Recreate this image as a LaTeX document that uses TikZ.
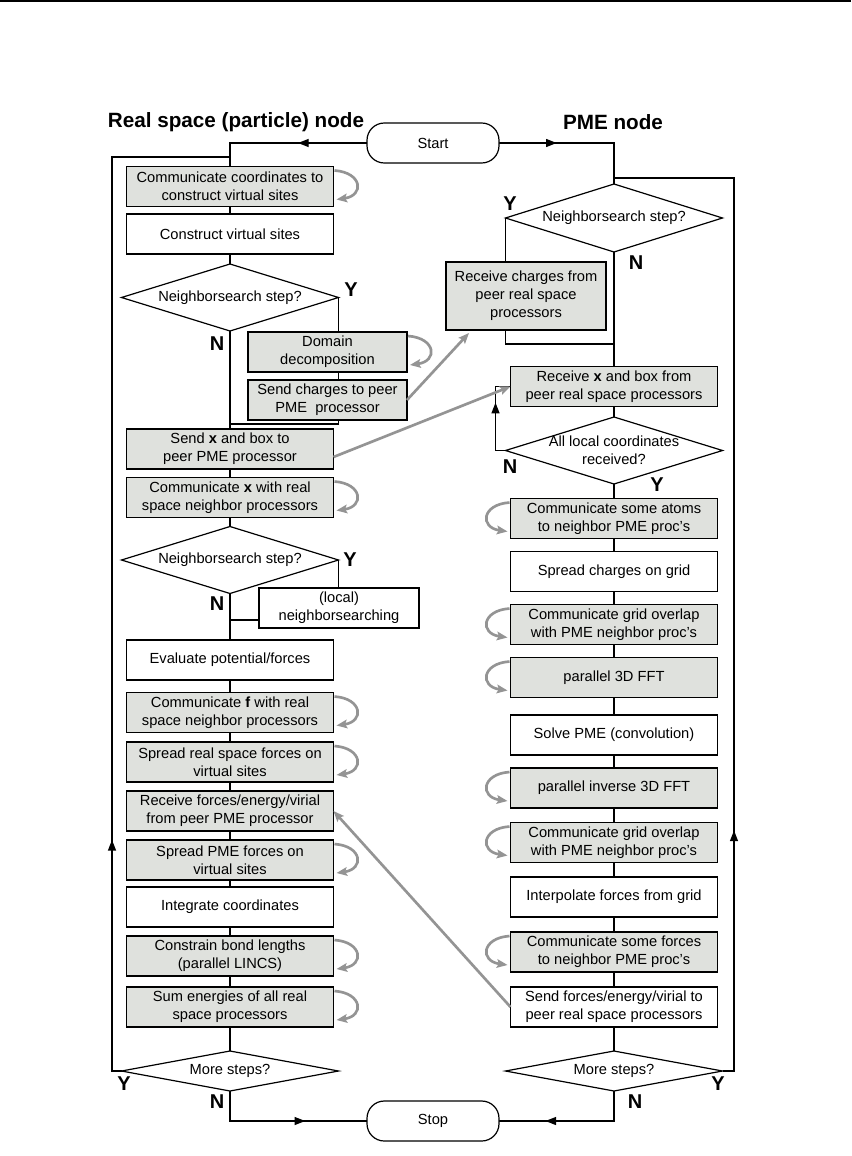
\documentclass[tikz,border=0pt]{standalone}
\usepackage{fontspec}
\setmainfont{Liberation Sans}
\usetikzlibrary{shapes.geometric,arrows.meta,decorations.markings}
\definecolor{boxgray}{RGB}{223,225,221}
\definecolor{arrgray}{RGB}{148,148,148}
\pgfdeclarelayer{bg}
\pgfsetlayers{bg,main}
\newcommand\selfloopR[1]{\draw[msg] ([shift={(1,4)}]#1.north east) .. controls +(28,2) and +(28,-4) .. ([shift={(3,-7)}]#1.south east);}
\newcommand\selfloopL[1]{\draw[msg] ([shift={(-1,4)}]#1.north west) .. controls +(-28,2) and +(-28,-4) .. ([shift={(-3,-7)}]#1.south west);}
\begin{document}
\begin{tikzpicture}[x=0.75pt,y=-0.75pt,
  every node/.style={font=\fontsize{11}{13.5}\selectfont, inner sep=0pt, outer sep=0pt, align=center},
  proc/.style={draw, line width=1.3pt, fill=white, minimum width=155.25pt, minimum height=30pt},
  comm/.style={proc, fill=boxgray},
  thinbox/.style={line width=0.8pt},
  dec/.style={draw, diamond, aspect=3.24, line width=0.9pt, fill=white, minimum width=162.75pt, minimum height=50.25pt},
  decflat/.style={dec, aspect=5.4, minimum height=30pt},
  term/.style={draw, rounded corners=13pt, line width=0.9pt, fill=white, minimum width=99pt, minimum height=30pt},
  flow/.style={line width=0.9pt},
  midarrow/.style={postaction={decorate}, decoration={markings, mark=at position #1 with {\arrow{Triangle[length=8pt,width=6pt]}}}},
  msg/.style={draw=arrgray, line width=2pt, -{Stealth[length=8pt,width=6.5pt,inset=1.5pt]}},
  lab/.style={font=\fontsize{15}{16}\selectfont\bfseries},
  heading/.style={font=\fontsize{15.5}{17}\selectfont\bfseries},
]
\useasboundingbox (0,0) rectangle (851,1156);
\draw[line width=1.5pt] (0,1) -- (851,1);

% headings
\node[heading] (h1) at (236,122) {Real space (particle) node};
\node[heading] (h2) at (613,122) {PME node};

% terminals
\node[term] (start) at (433,143) {Start};
\node[term] (stop) at (433,1121) {Stop};

% left column
\node[comm] (c1) at (230,186.5) {Communicate coordinates to\\construct virtual sites};
\node[proc] (c2) at (230,234) {Construct virtual sites};
\node[dec] (d1) at (230,297.5) {Neighborsearch step?};
\node[comm, thinbox, minimum width=119.25pt] (dd) at (327.5,352) {Domain\\decomposition};
\node[comm, minimum width=119.25pt] (sc) at (327.5,400) {Send charges to peer\\PME\ \ processor};
\node[comm] (sx) at (230,449) {Send \textbf{x} and box to\\peer PME processor};
\node[comm] (cx) at (230,497.5) {Communicate \textbf{x} with real\\space neighbor processors};
\node[dec] (d2) at (230,560) {Neighborsearch step?};
\node[proc, thinbox, minimum width=120pt] (ns) at (339,608) {(local)\\neighborsearching};
\node[proc] (ev) at (230,660) {Evaluate potential/forces};
\node[comm] (cf) at (230,712.5) {Communicate \textbf{f} with real\\space neighbor processors};
\node[comm] (sr) at (230,762) {Spread real space forces on\\virtual sites};
\node[comm] (rf) at (230,811) {Receive forces/energy/virial\\from peer PME processor};
\node[comm] (sp) at (230,860) {Spread PME forces on\\virtual sites};
\node[proc] (ic) at (230,907) {Integrate coordinates};
\node[comm, thinbox] (cb) at (230,956) {Constrain bond lengths\\(parallel LINCS)};
\node[comm, thinbox] (se) at (230,1007) {Sum energies of all real\\space processors};
\node[decflat] (d3) at (230,1071) {More steps?};

% right column
\node[dec, minimum height=51pt] (p1) at (614,218) {Neighborsearch step?};
\node[comm, minimum width=120pt, minimum height=51pt] (rc) at (526,296) {Receive charges from\\peer real space\\processors};
\node[comm] (rx) at (614,386.5) {Receive \textbf{x} and box from\\peer real space processors};
\node[dec, inner sep=-6pt] (p2) at (614,450.5) {All local coordinates\\received?};
\node[comm, thinbox] (ca) at (614,518.5) {Communicate some atoms\\to neighbor PME proc's};
\node[proc, thinbox] (sg) at (614,571.5) {Spread charges on grid};
\node[comm, thinbox] (co1) at (614,624.5) {Communicate grid overlap\\with PME neighbor proc's};
\node[comm, thinbox] (f1) at (614,677.5) {parallel 3D FFT};
\node[proc] (sv) at (614,735) {Solve PME (convolution)};
\node[comm] (f2) at (614,788) {parallel inverse 3D FFT};
\node[comm, thinbox] (co2) at (614,842.5) {Communicate grid overlap\\with PME neighbor proc's};
\node[proc] (ip) at (614,897) {Interpolate forces from grid};
\node[comm, thinbox] (cs) at (614,952) {Communicate some forces\\to neighbor PME proc's};
\node[proc] (sf) at (614,1007) {Send forces/energy/virial to\\peer real space processors};
\node[decflat] (p3) at (614,1071) {More steps?};

% Y/N labels
\node[lab] (ly1) at (351,290) {Y};
\node[lab] (ln1) at (217,344) {N};
\node[lab] (ly2) at (350,560) {Y};
\node[lab] (ln2) at (217,604) {N};
\node[lab] (ly3) at (510,204) {Y};
\node[lab] (ln3) at (636,263) {N};
\node[lab] (ln4) at (510,467) {N};
\node[lab] (ly4) at (657,485) {Y};
\node[lab] (ly5) at (124,1084) {Y};
\node[lab] (ln5) at (217,1102) {N};
\node[lab] (ln6) at (635,1102) {N};
\node[lab] (ly6) at (718,1084) {Y};

\coordinate (jl) at (230,157);
\coordinate (jr) at (614,178);
\coordinate (j1) at (230,424);
\coordinate (j2) at (230,620);
\coordinate (j3) at (614,344);

\begin{pgfonlayer}{bg}
% start / stop
\draw[flow, midarrow=0.43] (start.west) -- (start.west -| c1.north) -- (c1.north);
\draw[flow, midarrow=0.37] (start.east) -- (start.east -| p1.north) -- (p1.north);
\draw[flow, midarrow=0.63] (d3.south) |- (stop.west);
\draw[flow, midarrow=0.68] (p3.south) |- (stop.east);
% loops back
\draw[flow, midarrow=0.231] (d3.west) -- ++(-9.5,0) |- (jl);
\draw[flow, midarrow=0.246] (p3.east) -- ++(11.5,0) |- (jr);
% left chain
\draw[flow] (c1.south) -- (c2.north) (c2.south) -- (d1.north) (d1.south) -- (sx.north)
  (sx.south) -- (cx.north) (cx.south) -- (d2.north) (d2.south) -- (ev.north)
  (ev.south) -- (cf.north) (cf.south) -- (sr.north) (sr.south) -- (rf.north)
  (rf.south) -- (sp.north) (sp.south) -- (ic.north) (ic.south) -- (cb.north)
  (cb.south) -- (se.north) (se.south) -- (d3.north);
\draw[flow] (d1.east) -- (d1.east |- dd.north) (d1.east |- dd.south) -- (d1.east |- sc.north)
  (d1.east |- sc.south) -- (d1.east |- j1) -- (j1);
\draw[flow] (d2.east) -- (d2.east |- ns.north);
\draw[flow] (j2 -| ns.west) -- (j2);
% right chain
\draw[flow] (p1.south) -- (rx.north) (rx.south) -- (p2.north) (p2.south) -- (ca.north)
  (ca.south) -- (sg.north) (sg.south) -- (co1.north) (co1.south) -- (f1.north)
  (f1.south) -- (sv.north) (sv.south) -- (f2.north) (f2.south) -- (co2.north)
  (co2.south) -- (ip.north) (ip.south) -- (cs.north) (cs.south) -- (sf.north)
  (sf.south) -- (p3.north);
\draw[flow] (p1.west) -- (p1.west |- rc.north) (p1.west |- rc.south) -- (p1.west |- j3) -- (j3);
\draw[flow, midarrow=0.65] (p2.west) -- ++(-10,0) |- (rx.west);
\end{pgfonlayer}

% messages between nodes
\draw[msg] (sc.east) -- ([shift={(23,3)}]rc.south west);
\draw[msg] ([shift={(0,8)}]sx.east) -- (rx.west);
\draw[msg] (sf.west) -- (rf.east);

% self loops
\selfloopR{c1}
\selfloopR{dd}
\selfloopR{cx}
\selfloopR{cf}
\selfloopR{sr}
\selfloopR{sp}
\selfloopR{cb}
\selfloopR{se}
\selfloopL{ca}
\selfloopL{co1}
\selfloopL{f1}
\selfloopL{f2}
\selfloopL{co2}
\selfloopL{cs}
\end{tikzpicture}
\end{document}
